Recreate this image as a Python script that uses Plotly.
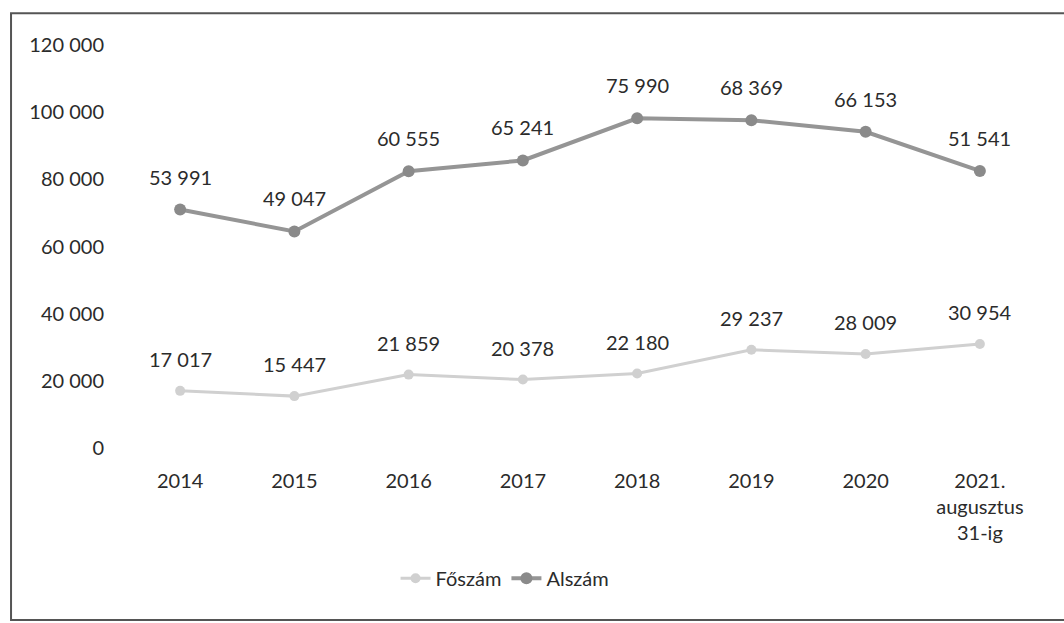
import plotly.graph_objects as go

categories = ["2014", "2015", "2016", "2017", "2018", "2019", "2020", "2021.<br>augusztus<br>31-ig"]
foszam = [17017, 15447, 21859, 20378, 22180, 29237, 28009, 30954]
alszam = [53991, 49047, 60555, 65241, 75990, 68369, 66153, 51541]
y_ticks = [0, 20000, 40000, 60000, 80000, 100000, 120000]

def fmt(v):
    return f"{v:,}".replace(",", " ")

alszam_stacked = [f + a for f, a in zip(foszam, alszam)]

FONT = "Lato, 'Open Sans', sans-serif"
TXT = "#2b2b2b"

fig = go.Figure()
fig.add_trace(go.Scatter(
    x=categories, y=foszam, name="Főszám", mode="lines+markers",
    line=dict(color="#d0d0d0", width=3),
    marker=dict(size=10, color="#d0d0d0"),
))
fig.add_trace(go.Scatter(
    x=categories, y=alszam_stacked, name="Alszám", mode="lines+markers",
    line=dict(color="#959595", width=4),
    marker=dict(size=12, color="#8a8a8a"),
))

for i, v in enumerate(foszam):
    fig.add_annotation(x=i, y=v, text=fmt(v), showarrow=False, yshift=32,
                       font=dict(size=20, color=TXT, family=FONT))
for i, (v, s) in enumerate(zip(alszam, alszam_stacked)):
    fig.add_annotation(x=i, y=s, text=fmt(v), showarrow=False, yshift=33,
                       font=dict(size=20, color=TXT, family=FONT))

fig.add_shape(type="rect", xref="paper", yref="paper",
              x0=-0.1225, x1=1.06, y0=-0.427, y1=1.079,
              line=dict(color="#555555", width=2))

fig.update_layout(
    width=1064, height=623,
    margin=dict(l=123, r=27, t=45, b=175, autoexpand=False),
    paper_bgcolor="white", plot_bgcolor="white",
    font=dict(family=FONT, color=TXT, size=20),
    showlegend=True,
    legend=dict(orientation="h", x=0.418, xanchor="center", y=-0.323, yanchor="middle",
                font=dict(size=20, color=TXT), traceorder="normal"),
    xaxis=dict(type="category", range=[-0.5, len(categories) - 0.5], automargin=False,
               showgrid=False, showline=False, zeroline=False,
               ticks="", ticklabelstandoff=19, tickfont=dict(size=20, color=TXT)),
    yaxis=dict(range=[0, 120000], tickvals=y_ticks, ticktext=[fmt(v) for v in y_ticks],
               automargin=False, showgrid=False, showline=False, zeroline=False, ticks="",
               ticklabelstandoff=18, tickfont=dict(size=20, color=TXT)),
)

fig.write_html("out.html", config={"displayModeBar": False},
               post_script="document.body.style.margin='0';document.body.style.overflow='hidden';")
